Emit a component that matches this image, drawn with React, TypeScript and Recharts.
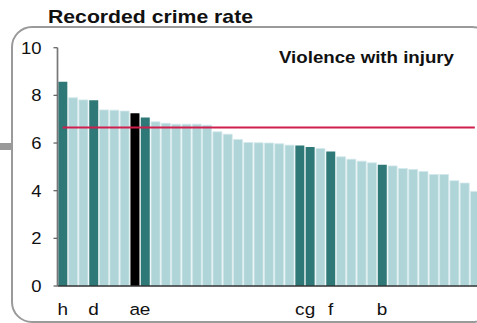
import { BarChart, Bar, XAxis, YAxis, Cell, ReferenceLine } from "recharts";

const labels = [
  "h", "", "", "d", "", "", "", "a", "e", "",
  "", "", "", "", "", "", "", "", "", "",
  "", "", "", "c", "g", "", "f", "", "", "",
  "", "b", "", "", "", "", "", "", "", "",
  "",
];

const rates = [
  8.57, 7.9, 7.81, 7.79, 7.39, 7.38, 7.34, 7.25, 7.07, 6.89,
  6.83, 6.79, 6.79, 6.79, 6.75, 6.47, 6.37, 6.15, 6.02, 6.01,
  6.0, 5.97, 5.91, 5.9, 5.83, 5.77, 5.64, 5.42, 5.32, 5.24,
  5.17, 5.09, 5.04, 4.93, 4.89, 4.81, 4.68, 4.68, 4.42, 4.32,
  3.97,
];

// "key" = black bar, "hi" = dark teal, "" = normal
const kinds = [
  "hi", "", "", "hi", "", "", "", "key", "hi", "",
  "", "", "", "", "", "", "", "", "", "",
  "", "", "", "hi", "hi", "", "hi", "", "", "",
  "", "hi", "", "", "", "", "", "", "", "",
  "",
];

const average = 6.65;
const yTicks = [0, 2, 4, 6, 8, 10];

const data = rates.map((rate, i) => ({ id: i, label: labels[i], rate, kind: kinds[i] }));

const fillFor = (kind: string) => (kind === "key" ? "#000000" : kind === "hi" ? "#2f7878" : "#afd5d8");

const YTick = (props: any) => {
  const { x, y, payload } = props;
  return (
    <g transform={`translate(${x},${y}) scale(1.12,1)`}>
      <text x={0} y={0} dy="0.36em" textAnchor="end" fontSize={16.5} fill="#111" fontFamily="'Liberation Sans', Arial, sans-serif">
        {payload.value}
      </text>
    </g>
  );
};

const XTick = (props: any) => {
  const { x, y, index } = props;
  const text = labels[index];
  if (!text) return null;
  return (
    <g transform={`translate(${x},${y + 29}) scale(1.15,1)`}>
      <text x={0} y={0} textAnchor="middle" fontSize={16.5} fill="#111" fontFamily="'Liberation Sans', Arial, sans-serif">
        {text}
      </text>
    </g>
  );
};

const App = () => {
  return (
    <div style={{ position: "absolute", left: 0, top: 0, width: 477, height: 323, overflow: "hidden", background: "#fff" }}>
      <svg width={477} height={323} style={{ position: "absolute", left: 0, top: 0 }}>
        <rect x={12} y={27} width={480} height={295} rx={20} ry={20} fill="none" stroke="#9a9a9a" strokeWidth={2} />
        <rect x={0} y={143} width={11} height={7} fill="#999" />
        <text x={48} y={22.7} fontSize={18.5} fontWeight="bold" fill="#111" fontFamily="'Liberation Sans', Arial, sans-serif" textLength={205} lengthAdjust="spacingAndGlyphs">
          Recorded crime rate
        </text>
        <text x={279} y={63} fontSize={16.5} fontWeight="bold" fill="#111" fontFamily="'Liberation Sans', Arial, sans-serif" textLength={175} lengthAdjust="spacingAndGlyphs">
          Violence with injury
        </text>
      </svg>
      <div style={{ position: "absolute", left: 0, top: 0 }}>
        <BarChart
          width={480}
          height={323}
          data={data}
          margin={{ top: 47.7, right: 0, left: 0, bottom: 0 }}
          barCategoryGap="8%"
        >
          <XAxis
            dataKey="id"
            interval={0}
            height={37}
            tick={<XTick />}
            tickLine={false}
            tickSize={0}
            tickMargin={0}
            axisLine={{ stroke: "#333", strokeWidth: 1.7 }}
          />
          <YAxis
            width={57.5}
            domain={[0, 10]}
            ticks={yTicks}
            tick={<YTick />}
            tickSize={4}
            tickMargin={12}
            tickLine={{ stroke: "#666", strokeWidth: 1.3 }}
            axisLine={{ stroke: "#777", strokeWidth: 1.7 }}
          />
          <Bar dataKey="rate" isAnimationActive={false}>
            {data.map((d) => (
              <Cell
                key={d.id}
                fill={fillFor(d.kind)}
                stroke={d.kind === "" ? "#d3e9eb" : "none"}
                strokeWidth={d.kind === "" ? 0.8 : 0}
              />
            ))}
          </Bar>
          <ReferenceLine
            segment={[
              { x: 0, y: average },
              { x: rates.length - 1, y: average },
            ]}
            stroke="#cf1f4c"
            strokeWidth={2}
          />
        </BarChart>
      </div>
    </div>
  );
};

export default App;
